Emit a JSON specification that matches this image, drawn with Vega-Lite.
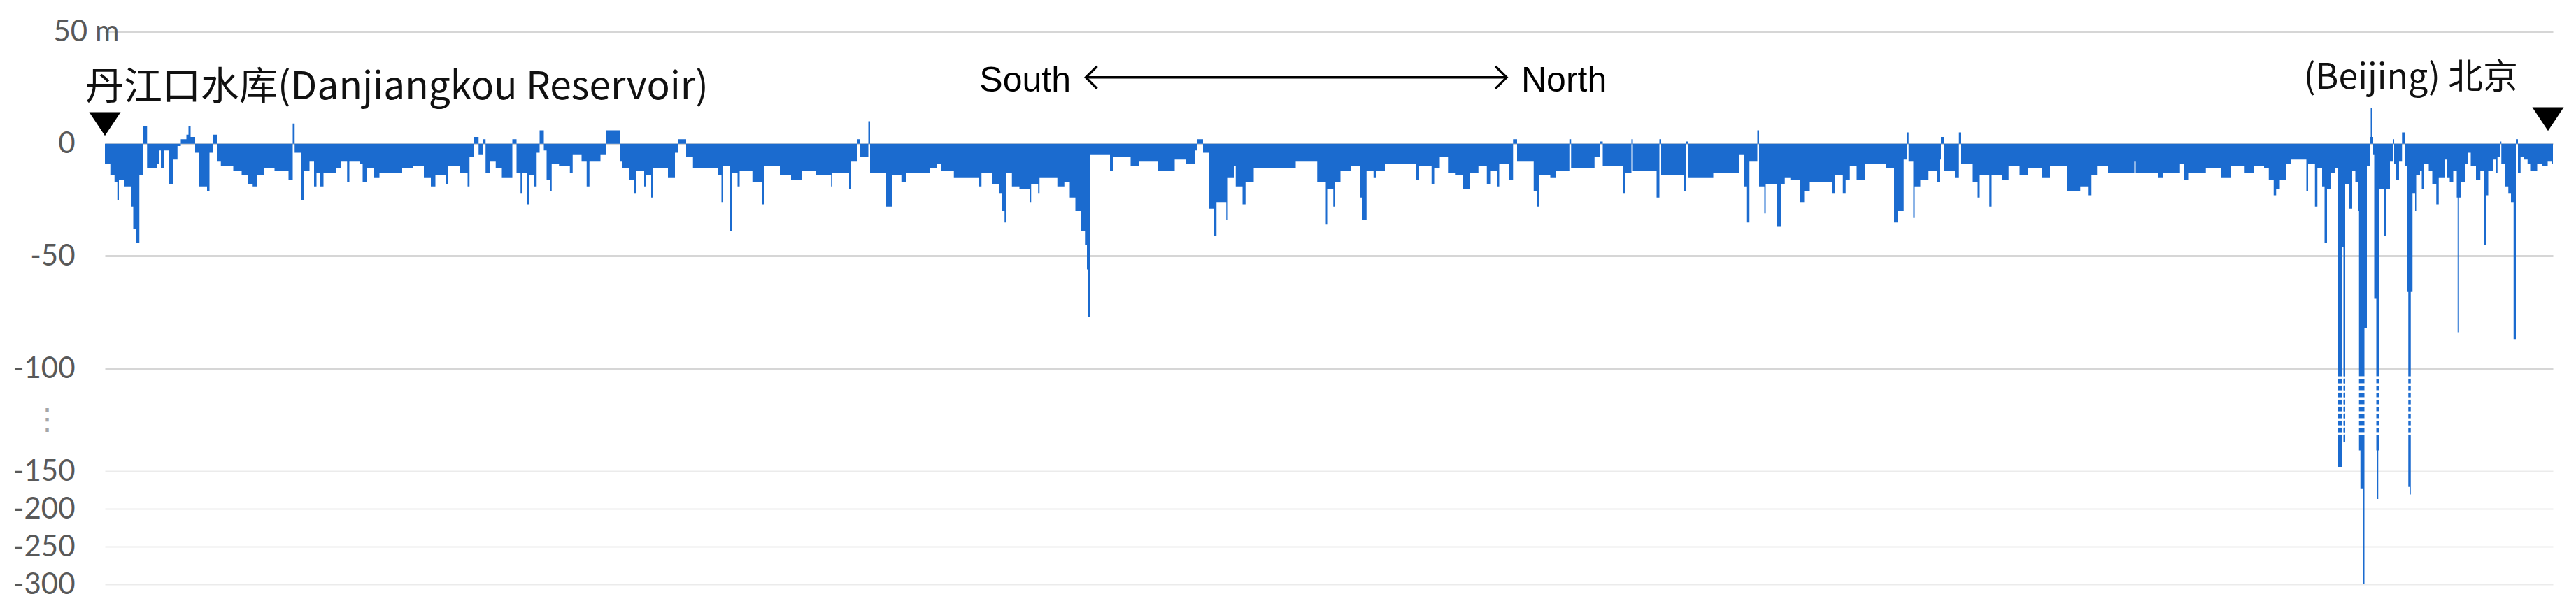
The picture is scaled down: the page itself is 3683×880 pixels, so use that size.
{
  "$schema": "https://vega.github.io/schema/vega-lite/v6.json",
  "autosize": {"type": "none"},
  "padding": {"left": 150, "top": 45, "right": 33, "bottom": 44},
  "width": 3500,
  "height": 791,
  "background": "white",
  "config": {"view": {"stroke": null}},
  "datasets": {
    "profile": [
      {"k":0,"v":-9},{"k":3.1,"v":-14},{"k":5.5,"v":-17},{"k":7.1,"v":-25},{"k":8,"v":-16},{"k":11,"v":-19},{"k":15,"v":-28},{"k":16.2,"v":-38},{"k":17.8,"v":-44},{"k":19.7,"v":-14},
      {"k":21.8,"v":8},{"k":24.1,"v":-11},{"k":30,"v":-9},{"k":31,"v":-3},{"k":32,"v":-11},{"k":34,"v":-3},{"k":36.8,"v":-18},{"k":39,"v":-7},{"k":41.5,"v":-1},{"k":43.4,"v":2},
      {"k":46.6,"v":4},{"k":47.8,"v":8},{"k":49,"v":3},{"k":51.6,"v":-4},{"k":53.8,"v":-19},{"k":58.4,"v":-21},{"k":59.8,"v":-4},{"k":62,"v":4},{"k":64,"v":-8},{"k":66.3,"v":-10},
      {"k":73.4,"v":-12},{"k":78.2,"v":-14},{"k":82,"v":-18},{"k":84.5,"v":-19},{"k":86.9,"v":-14},{"k":90.8,"v":-11},{"k":97,"v":-12},{"k":105,"v":-16},{"k":107.4,"v":9},{"k":108.5,"v":-4},
      {"k":112,"v":-25},{"k":113.7,"v":-12},{"k":117,"v":-8},{"k":119.6,"v":-19},{"k":121,"v":-13},{"k":123,"v":-19},{"k":125,"v":-13},{"k":132,"v":-11},{"k":135,"v":-8},{"k":138.5,"v":-17},
      {"k":139.8,"v":-8},{"k":146,"v":-9},{"k":147.4,"v":-17},{"k":149.6,"v":-11},{"k":154,"v":-15},{"k":157,"v":-13},{"k":170,"v":-11},{"k":176,"v":-10},{"k":182.4,"v":-15},{"k":186.4,"v":-19},
      {"k":189,"v":-14},{"k":195,"v":-18},{"k":196,"v":-10},{"k":203,"v":-13},{"k":207.4,"v":-19},{"k":208.5,"v":-6},{"k":211,"v":3},{"k":213.7,"v":-5},{"k":216.4,"v":2},{"k":217.7,"v":-13},
      {"k":220.4,"v":-8},{"k":223.5,"v":-11},{"k":227,"v":-15},{"k":233,"v":2},{"k":235.4,"v":-13},{"k":237.7,"v":-22},{"k":238.8,"v":-13},
      {"k":241.5,"v":-27},{"k":242.5,"v":-14},{"k":245.2,"v":-19},{"k":246.9,"v":-4},{"k":248.6,"v":6},{"k":251,"v":-3},{"k":252.6,"v":-16},{"k":254.5,"v":-21},{"k":255.5,"v":-9},{"k":259.7,"v":-10},
      {"k":265.9,"v":-13},{"k":267.5,"v":-5},{"k":272.6,"v":-8},{"k":275.5,"v":-19},{"k":277.1,"v":-8},{"k":283.4,"v":-5},{"k":286.6,"v":6},{"k":294.8,"v":-8},{"k":296,"v":-11},{"k":300,"v":-16},
      {"k":302.8,"v":-22},{"k":303.6,"v":-12},{"k":308.4,"v":-19},{"k":309.3,"v":-14},{"k":312.4,"v":-24},{"k":313.4,"v":-11},{"k":322,"v":-15},{"k":326,"v":-4},{"k":327.7,"v":2},{"k":332.4,"v":-6},
      {"k":336.3,"v":-11},{"k":350.5,"v":-14},{"k":352.6,"v":-26},{"k":353.5,"v":-10},{"k":357.6,"v":-39},{"k":358.4,"v":-13},{"k":361.8,"v":-19},{"k":363,"v":-12},{"k":370.3,"v":-17},{"k":375.8,"v":-27},
      {"k":377,"v":-10},{"k":386,"v":-14},{"k":392.4,"v":-16},{"k":398.7,"v":-12},{"k":406.6,"v":-14},{"k":415.3,"v":-19},{"k":416,"v":-13},{"k":425.6,"v":-20},{"k":426.6,"v":-8},{"k":430,"v":2},
      {"k":432,"v":-6},{"k":436.6,"v":10},{"k":437.6,"v":-13},{"k":446.8,"v":-28},{"k":450,"v":-14},{"k":455.5,"v":-17},{"k":458,"v":-13},{"k":472,"v":-11},{"k":476,"v":-9},
      {"k":478.4,"v":-12},{"k":485.5,"v":-15},{"k":499.7,"v":-19},{"k":501.3,"v":-13},{"k":507.6,"v":-18},{"k":511.5,"v":-22},{"k":513,"v":-30},{"k":514.5,"v":-35},{"k":515.5,"v":-13},{"k":518.7,"v":-19},
      {"k":523,"v":-20},{"k":528.9,"v":-26},{"k":529.7,"v":-18},{"k":533.7,"v":-22},{"k":534.5,"v":-15},{"k":544.7,"v":-19},{"k":548.7,"v":-17},{"k":551.8,"v":-24},{"k":555,"v":-30},{"k":558.2,"v":-39},
      {"k":560.5,"v":-45},{"k":561.6,"v":-56},{"k":562.4,"v":-77},{"k":563.2,"v":-5},{"k":574.8,"v":-12},{"k":576.5,"v":-6},{"k":586.6,"v":-10},{"k":591.3,"v":-8},{"k":602.4,"v":-12},{"k":611.8,"v":-7},
      {"k":618,"v":-9},{"k":623.6,"v":-3},{"k":624.7,"v":2},{"k":628,"v":-4},{"k":631.6,"v":-29},{"k":634,"v":-41},{"k":635.7,"v":-26},{"k":641.3,"v":-34},{"k":642.2,"v":-15},{"k":646,"v":-10},
      {"k":646.7,"v":-19},{"k":650.6,"v":-27},{"k":652.3,"v":-17},{"k":657,"v":-11},{"k":681,"v":-8},{"k":693.3,"v":-17},{"k":698.2,"v":-36},{"k":699,"v":-20},{"k":702.5,"v":-28},{"k":703.3,"v":-17},
      {"k":706.6,"v":-12},{"k":712.7,"v":-10},{"k":717.6,"v":-24},{"k":719,"v":-34},{"k":721.5,"v":-12},
      {"k":725.5,"v":-15},{"k":727.1,"v":-12},{"k":732,"v":-9},{"k":750,"v":-16},{"k":751.6,"v":-10},{"k":758.7,"v":-18},{"k":760.2,"v":-11},{"k":763.4,"v":-6},{"k":768.1,"v":-13},{"k":772.1,"v":-14},
      {"k":776.8,"v":-20},{"k":780.8,"v":-13},{"k":785.5,"v":-10},{"k":790.3,"v":-18},{"k":792.6,"v":-12},{"k":796.3,"v":-19},{"k":797.4,"v":-9},{"k":803,"v":-16},{"k":805.3,"v":2},{"k":807.6,"v":-8},
      {"k":817.1,"v":-21},{"k":819.1,"v":-28},{"k":820.3,"v":-14},{"k":826.6,"v":-15},{"k":829.8,"v":-12},{"k":837.5,"v":2},{"k":838.5,"v":-11},{"k":851.9,"v":-6},{"k":855,"v":1},{"k":856.6,"v":-10},
      {"k":868,"v":-22},{"k":869.3,"v":-13},{"k":873,"v":2},{"k":873.8,"v":-12},{"k":887.4,"v":-24},{"k":889,"v":2},{"k":890,"v":-14},{"k":903,"v":-21},{"k":904.4,"v":1},{"k":905.2,"v":-15},
      {"k":919.8,"v":-13},{"k":934.8,"v":-5},{"k":937.2,"v":-19},{"k":939.1,"v":-35},{"k":940.5,"v":-8},{"k":945,"v":6},{"k":946,"v":-19},{"k":949,"v":-31},{"k":949.8,"v":-18},{"k":956.2,"v":-37},
      {"k":958.4,"v":-18},{"k":960.7,"v":-15},{"k":963.9,"v":-16},{"k":969.4,"v":-26},{"k":971.8,"v":-21},{"k":975,"v":-17},{"k":987.6,"v":-22},{"k":989.2,"v":-14},{"k":993.9,"v":-22},{"k":995.5,"v":-16},
      {"k":997.9,"v":-10},{"k":1001.8,"v":-16},{"k":1006.6,"v":-9},{"k":1018.4,"v":-11},{"k":1023.2,"v":-35},{"k":1025.5,"v":-30},{"k":1028.7,"v":-7},{"k":1030.8,"v":5},{"k":1031.5,"v":-8},{"k":1034.2,"v":-33},
      {"k":1035,"v":-19},{"k":1038.2,"v":-16},{"k":1042.9,"v":-12},{"k":1047.6,"v":-17},{"k":1049.2,"v":-7},{"k":1050,"v":3},{"k":1051.6,"v":-12},{"k":1058,"v":-15},{"k":1060.3,"v":5},{"k":1061.6,"v":-9},
      {"k":1068.2,"v":-17},{"k":1071,"v":-24},{"k":1072.2,"v":-14},{"k":1077.7,"v":-28},{"k":1079,"v":-14},{"k":1084.8,"v":-16},{"k":1088.7,"v":-10},{"k":1095,"v":-14},{"k":1099.8,"v":-11},{"k":1107.7,"v":-15},
      {"k":1112.4,"v":-10},{"k":1122,"v":-21},{"k":1129.7,"v":-19},{"k":1134.5,"v":-23},{"k":1136.1,"v":-14},{"k":1139.3,"v":-10},{"k":1145.6,"v":-13},{"k":1160.6,"v":-8},{"k":1161.4,"v":-13},{"k":1174,"v":-15},
      {"k":1177.2,"v":-13},{"k":1186.7,"v":-9},{"k":1189,"v":-16},{"k":1191.4,"v":-13},
      {"k":1201.5,"v":-11},{"k":1210,"v":-15},{"k":1216,"v":-10},{"k":1223.7,"v":-13},{"k":1229.2,"v":-10},{"k":1234.8,"v":-11},{"k":1237.5,"v":-16},{"k":1240.3,"v":-23},{"k":1241.7,"v":-20},{"k":1243.8,"v":-16},
      {"k":1247.2,"v":-9},{"k":1250,"v":-7},{"k":1259,"v":-21},{"k":1260,"v":-9},{"k":1263.9,"v":-28},{"k":1265.3,"v":-11},{"k":1268,"v":-19},{"k":1269.4,"v":-44},{"k":1270.8,"v":-20},{"k":1272.9,"v":-13},
      {"k":1275.6,"v":-11},{"k":1277.2,"v":-148},{"k":1279.2,"v":-46},{"k":1280.2,"v":-136},{"k":1281.2,"v":-18},{"k":1283.6,"v":-29},{"k":1285.2,"v":-12},{"k":1287,"v":-17},{"k":1288.8,"v":-30},{"k":1289.1,"v":-140},
      {"k":1289.9,"v":-173},{"k":1291.4,"v":-299},{"k":1292.2,"v":-82},{"k":1293.6,"v":-10},{"k":1295.2,"v":3},{"k":1295.8,"v":16},{"k":1296.6,"v":3},{"k":1297.2,"v":-5},{"k":1297.8,"v":-69},{"k":1299,"v":-140},
      {"k":1299.4,"v":-187},{"k":1300.1,"v":-140},{"k":1300.5,"v":-20},{"k":1303.4,"v":-41},{"k":1304.7,"v":-20},{"k":1306.8,"v":-8},{"k":1308.5,"v":2},{"k":1309.2,"v":-9},{"k":1310.2,"v":-16},{"k":1312,"v":-8},
      {"k":1313.7,"v":5},{"k":1315.4,"v":-10},{"k":1316.7,"v":-66},{"k":1317.3,"v":-171},{"k":1318.1,"v":-181},{"k":1318.7,"v":-66},{"k":1319.7,"v":-22},{"k":1321.2,"v":-30},{"k":1321.8,"v":-14},{"k":1324,"v":-12},
      {"k":1325,"v":-20},{"k":1326,"v":-9},{"k":1329,"v":-12},{"k":1331,"v":-18},{"k":1333.3,"v":-27},{"k":1334.7,"v":-15},{"k":1338,"v":-7},{"k":1339.5,"v":-15},{"k":1341,"v":-17},{"k":1343,"v":-12},
      {"k":1345,"v":-24},{"k":1345.5,"v":-84},{"k":1346.3,"v":-24},{"k":1347.5,"v":-17},{"k":1350,"v":-9},{"k":1351.6,"v":-4},{"k":1353,"v":-10},{"k":1356,"v":-16},{"k":1358.5,"v":-12},{"k":1360.5,"v":-45},
      {"k":1361.6,"v":-23},{"k":1363,"v":-12},{"k":1366,"v":-7},{"k":1367.5,"v":-13},{"k":1368.3,"v":-6},{"k":1370,"v":1},{"k":1370.5,"v":-9},{"k":1372.5,"v":-19},{"k":1374.5,"v":-22},{"k":1376,"v":-26},
      {"k":1377.5,"v":-87},{"k":1378.8,"v":2},{"k":1380,"v":-13},{"k":1381.5,"v":-6},{"k":1383.5,"v":-7},{"k":1385.5,"v":-9},{"k":1387,"v":-12},{"k":1391,"v":-9},{"k":1394,"v":-10},{"k":1397,"v":-8},
      {"k":1399.5,"v":-9},{"k":1400,"v":-9}
    ]
  },
  "encoding": {
    "x": {"field": "k", "type": "quantitative", "scale": {"domain": [0, 1400], "nice": false, "zero": false}, "axis": null},
    "y": {
      "field": "v", "type": "quantitative",
      "scale": {"domain": [-300, -150, -100, 50], "range": [791, 629, 482, 0], "nice": false, "zero": false},
      "axis": {
        "title": null, "domain": false, "ticks": false, "tickSize": 0,
        "values": [50, 0, -50, -100, -125, -150, -200, -250, -300],
        "labelOverlap": false,
        "labelExpr": "datum.value == 50 ? '50 m' : (datum.value == -125 ? '⋮' : '' + datum.value)",
        "labelFont": {"condition": {"test": "datum.value == -125", "value": "DejaVu Sans"}, "value": "Lato"},
        "labelFontSize": 42,
        "labelColor": {"condition": {"test": "datum.value == -125", "value": "#a6a6a6"}, "value": "#595959"},
        "labelAlign": {"condition": {"test": "datum.value == -125", "value": "center"}, "value": "right"},
        "labelPadding": {"condition": [{"test": "datum.value == 50", "value": -20}, {"test": "datum.value == -125", "value": 83}], "value": 43},
        "labelBaseline": "middle",
        "grid": true,
        "gridColor": {"condition": {"test": "datum.value >= -100", "value": "#d6d6d6"}, "value": "#ebebeb"},
        "gridWidth": {"condition": {"test": "datum.value >= -100", "value": 3}, "value": 2},
        "gridOpacity": {"condition": {"test": "datum.value == -125", "value": 0}, "value": 1}
      }
    }
  },
  "layer": [
    {
      "data": {"name": "profile"},
      "mark": {"type": "area", "interpolate": "step-after", "color": "#1b6bcf"},
      "encoding": {"y2": {"datum": 0}}
    },
    {
      "data": {"name": "profile"},
      "transform": [{"filter": "datum.v < -104"}],
      "mark": {"type": "rule", "color": "white", "strokeWidth": 16, "strokeDash": [3, 7]},
      "encoding": {"y": {"datum": -104}, "y2": {"datum": -134}}
    },
    {
      "data": {"values": [{"k": -11.2, "v": 19.7, "t": "丹江口水库(Danjiangkou Reservoir)"}]},
      "mark": {"type": "text", "align": "left", "baseline": "alphabetic", "font": "Noto Sans CJK SC", "fontSize": 55, "color": "#111111"},
      "encoding": {"text": {"field": "t"}}
    },
    {
      "data": {"values": [{"k": 1380, "v": 24.4, "t": "(Beijing) 北京"}]},
      "mark": {"type": "text", "align": "right", "baseline": "alphabetic", "font": "Noto Sans CJK SC", "fontSize": 50, "color": "#111111"},
      "encoding": {"text": {"field": "t"}}
    },
    {
      "data": {"values": [{"k": 552.4, "v": 23.2, "t": "South"}]},
      "mark": {"type": "text", "align": "right", "baseline": "alphabetic", "font": "Liberation Sans", "fontSize": 50, "color": "#000000"},
      "encoding": {"text": {"field": "t"}}
    },
    {
      "data": {"values": [{"k": 810, "v": 23.2, "t": "North"}]},
      "mark": {"type": "text", "align": "left", "baseline": "alphabetic", "font": "Liberation Sans", "fontSize": 50, "color": "#000000"},
      "encoding": {"text": {"field": "t"}}
    },
    {
      "data": {"values": [{"k": 561, "k2": 801.6, "v": 29.5}]},
      "mark": {"type": "rule", "color": "#000000", "strokeWidth": 3.5},
      "encoding": {"x2": {"field": "k2"}}
    },
    {
      "data": {"values": [{"k": 564.2, "v": 29.5}]},
      "mark": {"type": "point", "shape": "M 0.5 -1 L -0.5 0 L 0.5 1", "size": 1024, "filled": false, "color": "#000000", "strokeWidth": 3.5, "opacity": 1}
    },
    {
      "data": {"values": [{"k": 798.4, "v": 29.5}]},
      "mark": {"type": "point", "shape": "M -0.5 -1 L 0.5 0 L -0.5 1", "size": 1024, "filled": false, "color": "#000000", "strokeWidth": 3.5, "opacity": 1}
    },
    {
      "data": {"values": [{"k": 0, "v": 8.8}, {"k": 1397.2, "v": 11}]},
      "mark": {"type": "point", "shape": "M -1 -0.75 L 1 -0.75 L 0 0.75 Z", "size": 2025, "filled": true, "color": "#000000", "opacity": 1}
    }
  ]
}
